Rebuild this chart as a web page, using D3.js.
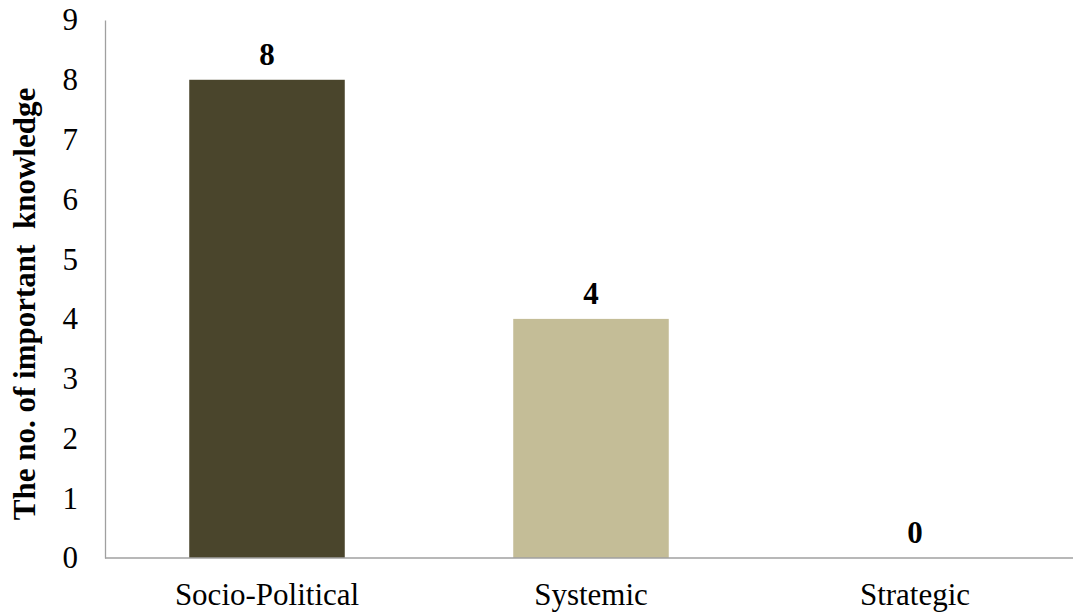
<!DOCTYPE html>
<html><head><meta charset="utf-8">
<script src="https://cdn.jsdelivr.net/npm/d3@7"></script>
<style>body{margin:0;background:#fff;} svg{display:block;}</style>
</head><body>
<svg id="c" width="1073" height="613"></svg>
<script>
const categories = ["Socio-Political", "Systemic", "Strategic"];
const values = [8, 4, 0];
const colors = ["#4a452c", "#c4bd97", "#938953"];
const yTicks = [0,1,2,3,4,5,6,7,8,9];

const svg = d3.select("#c");
const font = "'Liberation Serif','Times New Roman',serif";
const FS = 31;
const x = d3.scaleBand().domain(categories).range([105, 1077]).paddingInner(0.52).paddingOuter(0.26);
const y = d3.scaleLinear().domain([0, 9]).range([558, 20]);

// bars
svg.selectAll("rect.bar").data(values).enter().append("rect")
  .attr("x", (d,i) => x(categories[i]))
  .attr("y", d => y(d))
  .attr("width", x.bandwidth())
  .attr("height", d => y(0) - y(d))
  .attr("fill", (d,i) => colors[i]);

// y axis
const ya = svg.append("g").attr("transform", "translate(105,0)")
  .call(d3.axisLeft(y).tickValues(yTicks).tickSize(0).tickPadding(27).tickFormat(d3.format("d")));
ya.select(".domain").attr("stroke", "#a0a0a0").attr("stroke-width", 1.3);
ya.selectAll("text").attr("font-family", font).attr("font-size", FS).attr("fill", "#000");

// x axis
const xa = svg.append("g").attr("transform", "translate(0,558)")
  .call(d3.axisBottom(x).tickSize(0).tickPadding(25));
xa.select(".domain").attr("d", "M105,0H1073").attr("stroke", "#a0a0a0").attr("stroke-width", 1.3);
xa.selectAll("text").attr("font-family", font).attr("font-size", FS).attr("fill", "#000");

// value labels
svg.selectAll("text.val").data(values).enter().append("text")
  .attr("class", "val")
  .attr("x", (d,i) => x(categories[i]) + x.bandwidth()/2)
  .attr("y", d => y(d) - 15)
  .attr("text-anchor", "middle")
  .attr("font-family", font).attr("font-weight", "bold").attr("font-size", FS)
  .text(d => d);

// y title
svg.append("text")
  .attr("transform", "translate(35,304) rotate(-90)")
  .attr("text-anchor", "middle")
  .attr("font-family", font).attr("font-weight", "bold").attr("font-size", FS)
  .style("white-space", "pre")
  .text("The no. of important  knowledge");
</script>
</body></html>
